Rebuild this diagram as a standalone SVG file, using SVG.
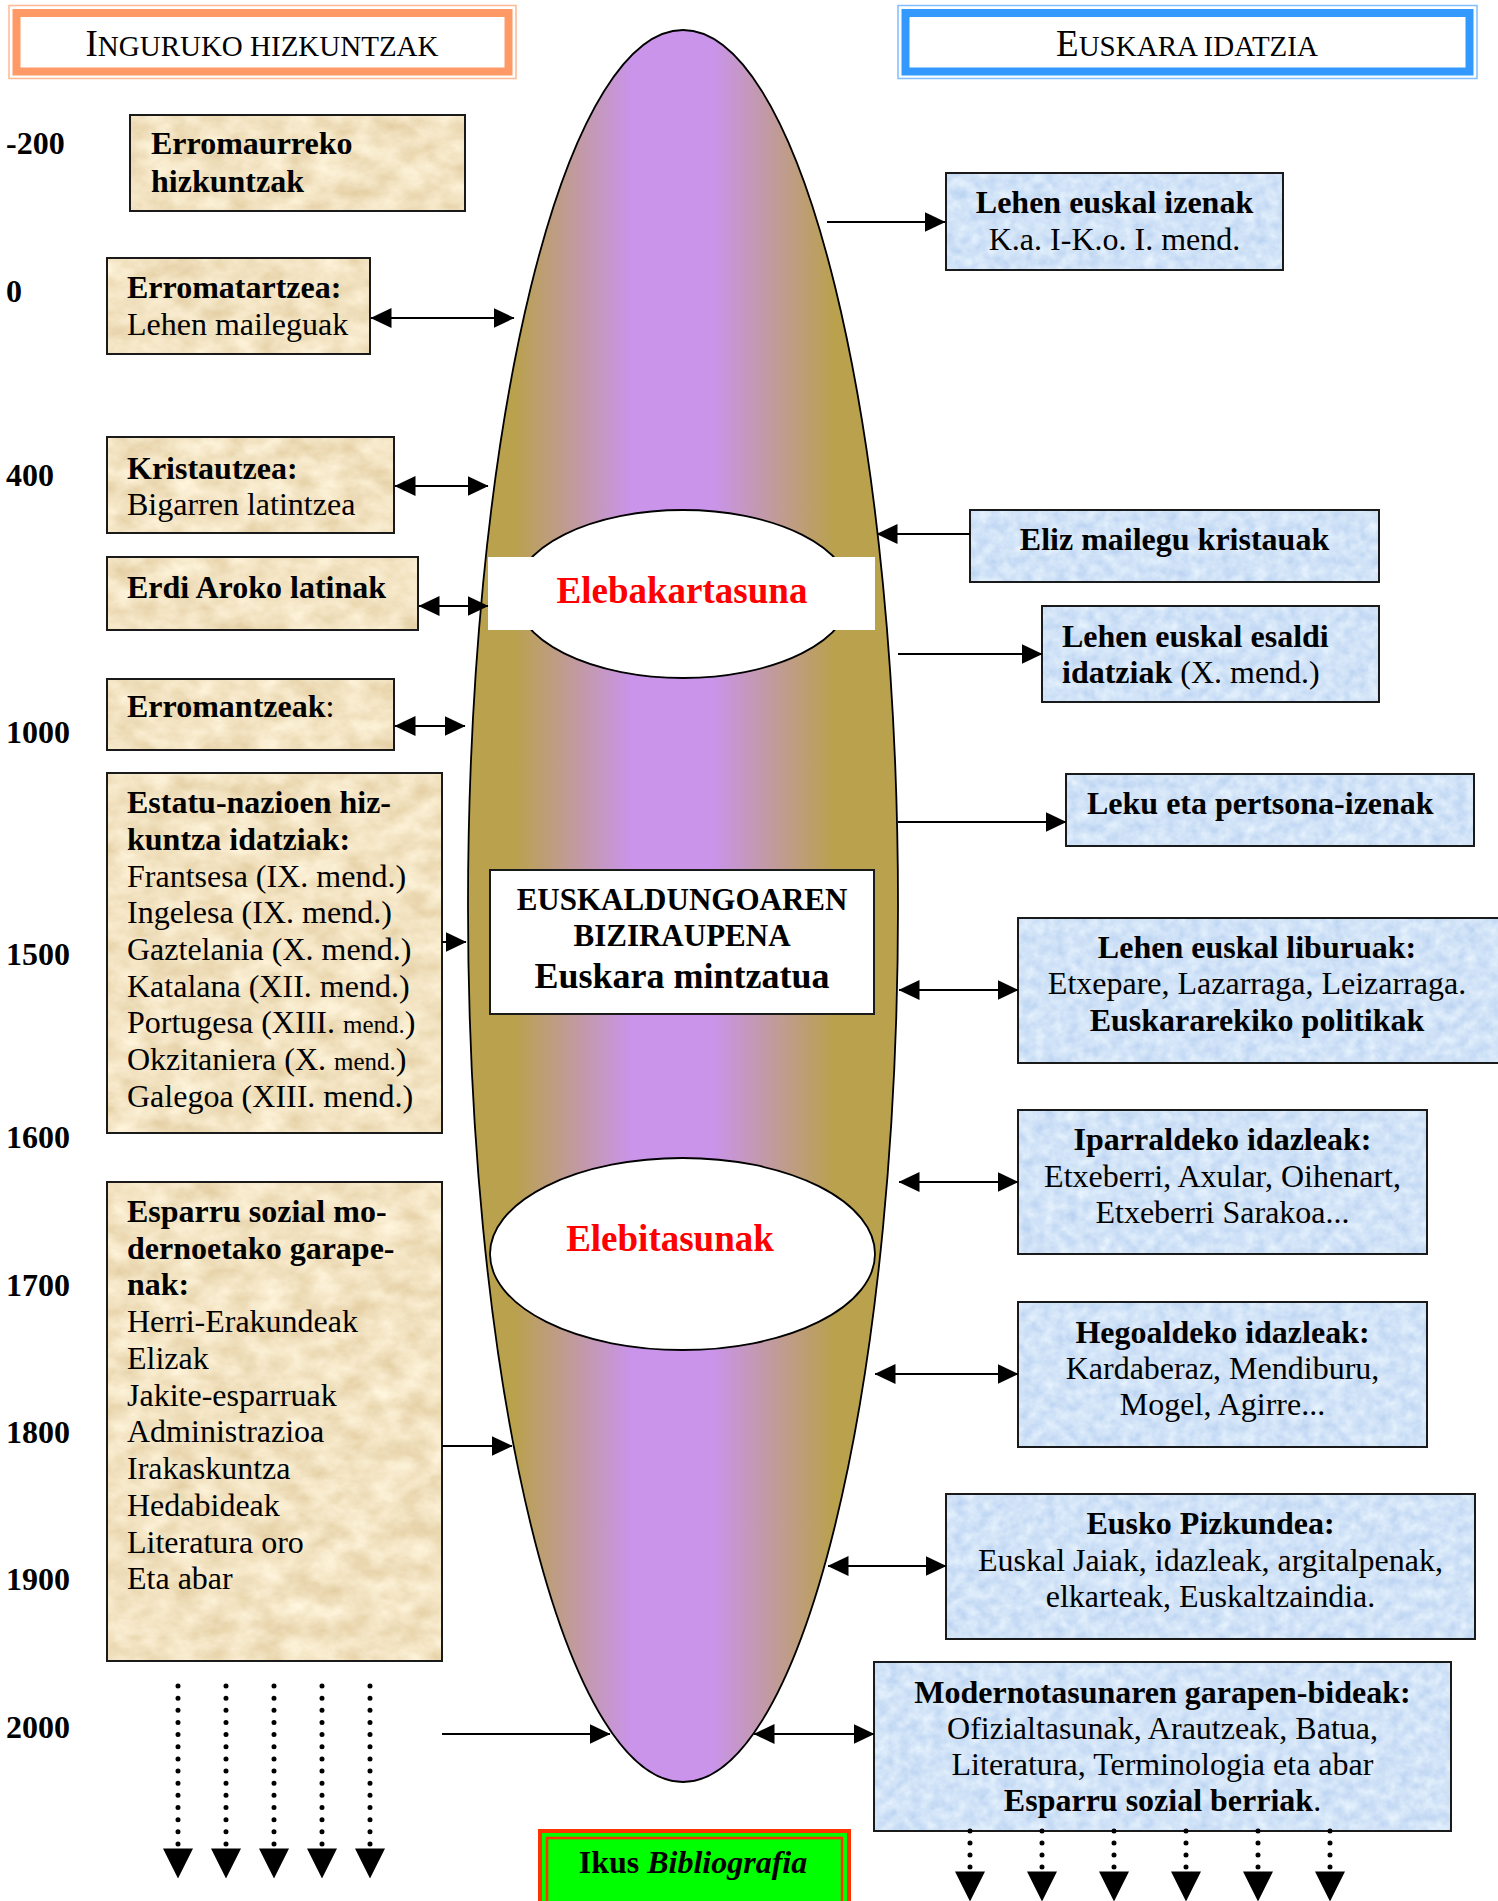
<svg xmlns="http://www.w3.org/2000/svg" width="1498" height="1901" viewBox="0 0 1498 1901">
<defs>
<style>
.t{font-family:"Liberation Serif","Times New Roman",serif;font-size:32px;fill:#000}
.b{font-weight:bold}
.c{text-anchor:middle}
.yr{font-family:"Liberation Serif","Times New Roman",serif;font-size:32px;font-weight:bold;fill:#000}
.red{fill:#FF0000;font-weight:bold;font-size:37px}
.sm{font-size:25px}
.bd{fill:none;stroke:#1a1a1a;stroke-width:2}
.pf{fill:#F0DDB5;filter:url(#parch)}
.bf{fill:#CCE0F7;filter:url(#blue)}
.ln{stroke:#000;stroke-width:2;fill:none}
.one{marker-end:url(#ah)}
.two{marker-start:url(#ah);marker-end:url(#ah)}
.dot{stroke:#000;stroke-width:5;stroke-linecap:round;fill:none;marker-end:url(#bh)}
</style>
<filter id="parch" filterUnits="objectBoundingBox" x="0" y="0" width="1" height="1" color-interpolation-filters="sRGB">
<feTurbulence type="fractalNoise" baseFrequency="0.035 0.05" numOctaves="4" seed="7"/>
<feColorMatrix type="matrix" values="0.14 0 0 0 0.88  0.2 0 0 0 0.79  0.3 0 0 0 0.61  0 0 0 0 1"/>
</filter>
<filter id="blue" filterUnits="objectBoundingBox" x="0" y="0" width="1" height="1" color-interpolation-filters="sRGB">
<feTurbulence type="fractalNoise" baseFrequency="0.09" numOctaves="3" seed="11"/>
<feColorMatrix type="matrix" values="0.22 0 0 0 0.71  0.16 0 0 0 0.81  0.06 0 0 0 0.94  0 0 0 0 1"/>
</filter>
<linearGradient id="eg" gradientUnits="userSpaceOnUse" x1="468" y1="0" x2="898" y2="0">
<stop offset="0" stop-color="#B9A14E"/>
<stop offset="0.11" stop-color="#B9A14E"/>
<stop offset="0.38" stop-color="#C994EA"/>
<stop offset="0.57" stop-color="#C994EA"/>
<stop offset="0.85" stop-color="#B9A14E"/>
<stop offset="1" stop-color="#B9A14E"/>
</linearGradient>
<marker id="ah" markerUnits="userSpaceOnUse" markerWidth="21" markerHeight="20" viewBox="0 0 21 20" refX="20.5" refY="10" orient="auto-start-reverse">
<path d="M0,0 L21,10 L0,20 z" fill="#000"/>
</marker>
<marker id="bh" markerUnits="userSpaceOnUse" markerWidth="30" markerHeight="30" viewBox="0 0 30 30" refX="-4" refY="15" orient="auto" overflow="visible">
<path d="M0,0 L30,15 L0,30 z" fill="#000"/>
</marker>
</defs>

<rect x="0" y="0" width="1498" height="1901" fill="#fff"/>

<!-- headers -->
<g id="hdr-left">
<rect x="9" y="5.5" width="507" height="73" fill="#fff" stroke="#FFB890" stroke-width="1.5"/>
<rect x="16.5" y="13" width="492" height="58.5" fill="#fff" stroke="#FF9966" stroke-width="8"/>
<text class="t c" x="262" y="56"><tspan style="font-size:37px">I</tspan><tspan style="font-size:29px">NGURUKO HIZKUNTZAK</tspan></text>
</g>
<g id="hdr-right">
<rect x="898" y="5.5" width="579" height="73" fill="#fff" stroke="#7FBFFF" stroke-width="1.5"/>
<rect x="905.5" y="13" width="564" height="58.5" fill="#fff" stroke="#3399FF" stroke-width="8"/>
<text class="t c" x="1187" y="56"><tspan style="font-size:37px">E</tspan><tspan style="font-size:29px">USKARA IDATZIA</tspan></text>
</g>

<!-- year labels -->
<g id="years">
<text class="yr" x="6" y="154">-200</text>
<text class="yr" x="6" y="302">0</text>
<text class="yr" x="6" y="486">400</text>
<text class="yr" x="6" y="743">1000</text>
<text class="yr" x="6" y="965">1500</text>
<text class="yr" x="6" y="1148">1600</text>
<text class="yr" x="6" y="1296">1700</text>
<text class="yr" x="6" y="1443">1800</text>
<text class="yr" x="6" y="1590">1900</text>
<text class="yr" x="6" y="1738">2000</text>
</g>

<!-- central ellipse -->
<g id="n-core">
<ellipse cx="683" cy="906" rx="215" ry="876" fill="url(#eg)" stroke="#000" stroke-width="1.8"/>
</g>
<g id="n-elebakartasuna">
<ellipse cx="683" cy="594" rx="168" ry="84" fill="#fff" stroke="#000" stroke-width="1.8"/>
<rect x="488" y="557" width="387" height="73" fill="#fff"/>
<text class="t c red" x="682" y="603">Elebakartasuna</text>
</g>
<g id="n-biziraupena">
<rect x="490" y="870" width="384" height="144" fill="#fff" stroke="#1a1a1a" stroke-width="2"/>
<text class="t c b" x="682" y="910" style="font-size:31px">EUSKALDUNGOAREN</text>
<text class="t c b" x="682" y="946" style="font-size:31px">BIZIRAUPENA</text>
<text class="t c b" x="682" y="988" style="font-size:36px">Euskara mintzatua</text>
</g>
<g id="n-elebitasunak">
<ellipse cx="682.5" cy="1254" rx="192.5" ry="96" fill="#fff" stroke="#000" stroke-width="1.8"/>
<text class="t c red" x="670" y="1251">Elebitasunak</text>
</g>

<!-- left nodes -->
<g id="n-erromaurreko">
<rect class="pf" x="130" y="115" width="335" height="96"/>
<rect class="bd" x="130" y="115" width="335" height="96"/>
<text class="t b" x="151" y="154">Erromaurreko</text>
<text class="t b" x="151" y="192">hizkuntzak</text>
</g>
<g id="n-erromatartzea">
<rect class="pf" x="107" y="258" width="263" height="96"/>
<rect class="bd" x="107" y="258" width="263" height="96"/>
<text class="t b" x="127" y="298">Erromatartzea:</text>
<text class="t" x="127" y="335">Lehen maileguak</text>
</g>
<g id="n-kristautzea">
<rect class="pf" x="107" y="437" width="287" height="96"/>
<rect class="bd" x="107" y="437" width="287" height="96"/>
<text class="t b" x="127" y="479">Kristautzea:</text>
<text class="t" x="127" y="515">Bigarren latintzea</text>
</g>
<g id="n-erdiaroko">
<rect class="pf" x="107" y="557" width="311" height="73"/>
<rect class="bd" x="107" y="557" width="311" height="73"/>
<text class="t b" x="127" y="598">Erdi Aroko latinak</text>
</g>
<g id="n-erromantzeak">
<rect class="pf" x="107" y="679" width="287" height="71"/>
<rect class="bd" x="107" y="679" width="287" height="71"/>
<text class="t" x="127" y="717"><tspan class="b">Erromantzeak</tspan>:</text>
</g>
<g id="n-estatu">
<rect class="pf" x="107" y="773" width="335" height="360"/>
<rect class="bd" x="107" y="773" width="335" height="360"/>
<text class="t b" x="127" y="813">Estatu-nazioen hiz-</text>
<text class="t b" x="127" y="850">kuntza idatziak:</text>
<text class="t" x="127" y="887">Frantsesa (IX. mend.)</text>
<text class="t" x="127" y="923">Ingelesa (IX. mend.)</text>
<text class="t" x="127" y="960">Gaztelania (X. mend.)</text>
<text class="t" x="127" y="997">Katalana (XII. mend.)</text>
<text class="t" x="127" y="1033">Portugesa (XIII. <tspan class="sm">mend.</tspan>)</text>
<text class="t" x="127" y="1070">Okzitaniera (X. <tspan class="sm">mend.</tspan>)</text>
<text class="t" x="127" y="1107">Galegoa (XIII. mend.)</text>
</g>
<g id="n-esparru">
<rect class="pf" x="107" y="1182" width="335" height="479"/>
<rect class="bd" x="107" y="1182" width="335" height="479"/>
<text class="t b" x="127" y="1222">Esparru sozial mo-</text>
<text class="t b" x="127" y="1259">dernoetako garape-</text>
<text class="t b" x="127" y="1295">nak:</text>
<text class="t" x="127" y="1332">Herri-Erakundeak</text>
<text class="t" x="127" y="1369">Elizak</text>
<text class="t" x="127" y="1406">Jakite-esparruak</text>
<text class="t" x="127" y="1442">Administrazioa</text>
<text class="t" x="127" y="1479">Irakaskuntza</text>
<text class="t" x="127" y="1516">Hedabideak</text>
<text class="t" x="127" y="1553">Literatura oro</text>
<text class="t" x="127" y="1589">Eta abar</text>
</g>

<!-- right nodes -->
<g id="n-izenak">
<rect class="bf" x="946" y="173" width="337" height="97"/>
<rect class="bd" x="946" y="173" width="337" height="97"/>
<text class="t b c" x="1114.5" y="213">Lehen euskal izenak</text>
<text class="t c" x="1114.5" y="250">K.a. I-K.o. I. mend.</text>
</g>
<g id="n-eliz">
<rect class="bf" x="970" y="510" width="409" height="72"/>
<rect class="bd" x="970" y="510" width="409" height="72"/>
<text class="t b c" x="1174.5" y="550">Eliz mailegu kristauak</text>
</g>
<g id="n-esaldi">
<rect class="bf" x="1042" y="606" width="337" height="96"/>
<rect class="bd" x="1042" y="606" width="337" height="96"/>
<text class="t b" x="1062" y="647">Lehen euskal esaldi</text>
<text class="t" x="1062" y="683"><tspan class="b">idatziak</tspan> (X. mend.)</text>
</g>
<g id="n-leku">
<rect class="bf" x="1066" y="774" width="408" height="72"/>
<rect class="bd" x="1066" y="774" width="408" height="72"/>
<text class="t b" x="1087" y="814">Leku eta pertsona-izenak</text>
</g>
<g id="n-liburuak">
<rect class="bf" x="1018" y="918" width="485" height="145"/>
<rect class="bd" x="1018" y="918" width="485" height="145"/>
<text class="t b c" x="1257" y="958">Lehen euskal liburuak:</text>
<text class="t c" x="1257" y="994">Etxepare, Lazarraga, Leizarraga.</text>
<text class="t b c" x="1257" y="1031">Euskararekiko politikak</text>
</g>
<g id="n-iparraldeko">
<rect class="bf" x="1018" y="1110" width="409" height="144"/>
<rect class="bd" x="1018" y="1110" width="409" height="144"/>
<text class="t b c" x="1222.5" y="1150">Iparraldeko idazleak:</text>
<text class="t c" x="1222.5" y="1187">Etxeberri, Axular, Oihenart,</text>
<text class="t c" x="1222.5" y="1223">Etxeberri Sarakoa...</text>
</g>
<g id="n-hegoaldeko">
<rect class="bf" x="1018" y="1302" width="409" height="145"/>
<rect class="bd" x="1018" y="1302" width="409" height="145"/>
<text class="t b c" x="1222.5" y="1343">Hegoaldeko idazleak:</text>
<text class="t c" x="1222.5" y="1379">Kardaberaz, Mendiburu,</text>
<text class="t c" x="1222.5" y="1415">Mogel, Agirre...</text>
</g>
<g id="n-pizkundea">
<rect class="bf" x="946" y="1494" width="529" height="145"/>
<rect class="bd" x="946" y="1494" width="529" height="145"/>
<text class="t b c" x="1210.5" y="1534">Eusko Pizkundea:</text>
<text class="t c" x="1210.5" y="1571">Euskal Jaiak, idazleak, argitalpenak,</text>
<text class="t c" x="1210.5" y="1607">elkarteak, Euskaltzaindia.</text>
</g>
<g id="n-modernotasuna">
<rect class="bf" x="874" y="1662" width="577" height="169"/>
<rect class="bd" x="874" y="1662" width="577" height="169"/>
<text class="t b c" x="1162.5" y="1703">Modernotasunaren garapen-bideak:</text>
<text class="t c" x="1162.5" y="1739">Ofizialtasunak, Arautzeak, Batua,</text>
<text class="t c" x="1162.5" y="1775">Literatura, Terminologia eta abar</text>
<text class="t c" x="1162.5" y="1811"><tspan class="b">Esparru sozial berriak</tspan>.</text>
</g>
<g id="n-bibliografia">
<rect x="540" y="1831" width="309" height="72" fill="#00FF00" stroke="#FF3300" stroke-width="4"/>
<rect x="547" y="1838" width="295" height="70" fill="none" stroke="#FF3300" stroke-width="2.5"/>
<text class="t b c" x="693" y="1873">Ikus <tspan font-style="italic">Bibliografia</tspan></text>
</g>

<!-- connectors -->
<g id="connectors">
<line class="ln one" x1="827" y1="222" x2="945" y2="222"/>
<line class="ln two" x1="371" y1="318" x2="514" y2="318"/>
<line class="ln two" x1="395" y1="486" x2="488" y2="486"/>
<line class="ln one" x1="970" y1="534" x2="877" y2="534"/>
<line class="ln two" x1="419" y1="606" x2="488" y2="606"/>
<line class="ln one" x1="898" y1="654" x2="1042" y2="654"/>
<line class="ln two" x1="395" y1="726" x2="465" y2="726"/>
<line class="ln one" x1="898" y1="822" x2="1066" y2="822"/>
<line class="ln one" x1="442" y1="942" x2="466" y2="942"/>
<line class="ln two" x1="899" y1="990" x2="1018" y2="990"/>
<line class="ln two" x1="899" y1="1182" x2="1018" y2="1182"/>
<line class="ln two" x1="875" y1="1374" x2="1018" y2="1374"/>
<line class="ln one" x1="442" y1="1446" x2="512" y2="1446"/>
<line class="ln two" x1="828" y1="1566" x2="946" y2="1566"/>
<line class="ln one" x1="442" y1="1734" x2="610" y2="1734"/>
<line class="ln two" x1="754" y1="1734" x2="874" y2="1734"/>
<g stroke-dasharray="0 12.15">
<line class="dot" x1="178" y1="1686" x2="178" y2="1844.5"/>
<line class="dot" x1="226" y1="1686" x2="226" y2="1844.5"/>
<line class="dot" x1="274" y1="1686" x2="274" y2="1844.5"/>
<line class="dot" x1="322" y1="1686" x2="322" y2="1844.5"/>
<line class="dot" x1="370" y1="1686" x2="370" y2="1844.5"/>
</g>
<g stroke-dasharray="0 12">
<line class="dot" x1="970" y1="1831" x2="970" y2="1867.5"/>
<line class="dot" x1="1042" y1="1831" x2="1042" y2="1867.5"/>
<line class="dot" x1="1114" y1="1831" x2="1114" y2="1867.5"/>
<line class="dot" x1="1186" y1="1831" x2="1186" y2="1867.5"/>
<line class="dot" x1="1258" y1="1831" x2="1258" y2="1867.5"/>
<line class="dot" x1="1330" y1="1831" x2="1330" y2="1867.5"/>
</g>
</g>
</svg>
